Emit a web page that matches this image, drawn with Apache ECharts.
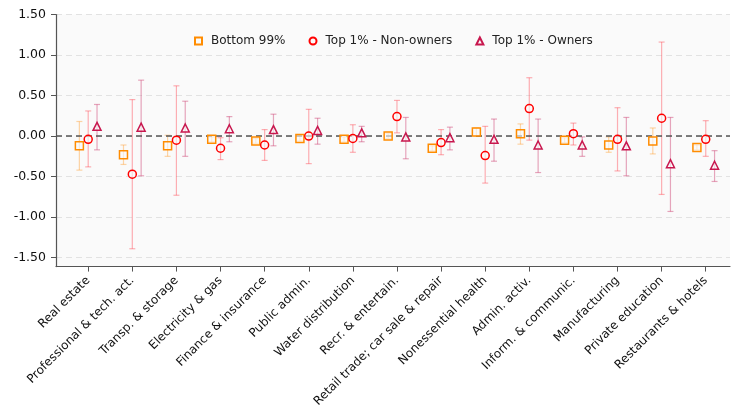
<!DOCTYPE html>
<html><head><meta charset="utf-8">
<script src="https://cdn.jsdelivr.net/npm/echarts@6/dist/echarts.min.js"></script>
<style>html,body{margin:0;padding:0;background:#fff}#c{width:731px;height:410px}</style>
</head><body><div id="c"></div>
<script>
const categories = ["Real estate","Professional & tech. act.","Transp. & storage","Electricity & gas","Finance & insurance","Public admin.","Water distribution","Recr. & entertain.","Retail trade; car sale & repair","Nonessential health","Admin. activ.","Inform. & communic.","Manufacturing","Private education","Restaurants & hotels"];
const yTicks = [-1.5, -1.0, -0.5, 0.0, 0.5, 1.0, 1.5];

const bottomVal  = [-0.12, -0.23, -0.12, -0.04, -0.06, -0.03, -0.04, 0.00, -0.15, 0.05, 0.03, -0.05, -0.11, -0.06, -0.14];
const bottomLow  = [-0.42, -0.35, -0.25, -0.07, -0.09, -0.06, -0.07, -0.03, -0.18, 0.00, -0.10, -0.08, -0.20, -0.22, -0.17];
const bottomHigh = [0.18, -0.11, 0.01, -0.01, -0.03, 0.00, -0.01, 0.03, -0.12, 0.10, 0.15, -0.02, -0.01, 0.10, -0.11];

const nonVal  = [-0.04, -0.47, -0.05, -0.15, -0.11, 0.00, -0.03, 0.24, -0.08, -0.24, 0.34, 0.03, -0.04, 0.22, -0.04];
const nonLow  = [-0.38, -1.39, -0.73, -0.29, -0.30, -0.34, -0.20, 0.04, -0.23, -0.58, -0.05, -0.11, -0.43, -0.72, -0.25];
const nonHigh = [0.31, 0.45, 0.62, -0.02, 0.08, 0.33, 0.14, 0.44, 0.08, 0.12, 0.72, 0.16, 0.35, 1.16, 0.19];

const ownVal  = [0.12, 0.11, 0.10, 0.09, 0.08, 0.07, 0.04, -0.01, -0.02, -0.04, -0.11, -0.11, -0.12, -0.34, -0.36];
const ownLow  = [-0.17, -0.49, -0.25, -0.07, -0.12, -0.10, -0.07, -0.28, -0.17, -0.31, -0.45, -0.25, -0.49, -0.93, -0.56];
const ownHigh = [0.39, 0.69, 0.43, 0.24, 0.27, 0.22, 0.12, 0.23, 0.11, 0.21, 0.21, -0.01, 0.23, 0.23, -0.18];

const seriesDefs = [
  {name: 'Bottom 99%', val: bottomVal, low: bottomLow, high: bottomHigh, offset: -0.2, symbol: 'rect', color: '#ff8c00', bar: 'rgba(255,165,60,0.45)', size: 8},
  {name: 'Top 1% - Non-owners', val: nonVal, low: nonLow, high: nonHigh, offset: 0, symbol: 'circle', color: '#ff0000', bar: 'rgba(255,80,90,0.45)', size: 8},
  {name: 'Top 1% - Owners', val: ownVal, low: ownLow, high: ownHigh, offset: 0.2, symbol: 'triangle', color: '#c8174e', bar: 'rgba(205,60,110,0.45)', size: 8}
];

const series = [];
seriesDefs.forEach(function (d) {
  series.push({
    type: 'custom', name: d.name + ' err', silent: true, z: 2,
    data: d.val.map(function (_, i) { return [i, d.low[i], d.high[i]]; }),
    renderItem: function (params, api) {
      const x = api.value(0) + d.offset;
      const lo = api.coord([x, api.value(1)]);
      const hi = api.coord([x, api.value(2)]);
      const cw = 3;
      const st = {stroke: d.bar, lineWidth: 1.2};
      return {type: 'group', children: [
        {type: 'line', shape: {x1: lo[0], y1: lo[1], x2: hi[0], y2: hi[1]}, style: st},
        {type: 'line', shape: {x1: lo[0] - cw, y1: lo[1], x2: lo[0] + cw, y2: lo[1]}, style: st},
        {type: 'line', shape: {x1: hi[0] - cw, y1: hi[1], x2: hi[0] + cw, y2: hi[1]}, style: st}
      ]};
    }
  });
});
seriesDefs.forEach(function (d, k) {
  const s = {
    type: 'scatter', name: d.name, z: 5,
    symbol: d.symbol, symbolSize: d.size,
    data: d.val.map(function (v, i) { return [i + d.offset, v]; }),
    itemStyle: {color: 'rgba(250,250,250,0.6)', borderColor: d.color, borderWidth: 1.5, opacity: 1}
  };
  if (k === 0) {
    s.markLine = {silent: true, symbol: 'none', label: {show: false},
      lineStyle: {color: '#555', type: [6, 4], width: 1.6},
      data: [{yAxis: 0}]};
  }
  series.push(s);
});

const chart = echarts.init(document.getElementById('c'), null, {renderer: 'canvas'});
chart.setOption({
  animation: false,
  backgroundColor: '#ffffff',
  textStyle: {fontFamily: 'DejaVu Sans'},
  grid: {left: 56, right: 1, top: 14.5, bottom: 142, show: true, backgroundColor: '#fafafa', borderWidth: 0},
  legend: {
    left: 189, top: 30, itemGap: 23, itemWidth: 7, itemHeight: 7,
    textStyle: {fontFamily: 'DejaVu Sans', fontSize: 12, color: '#222', padding: [0, 0, 0, 4]},
    data: seriesDefs.map(function (d) { return {name: d.name, icon: d.symbol}; })
  },
  xAxis: {
    type: 'value', min: -0.73, max: 14.55,
    axisLine: {show: true, onZero: false, lineStyle: {color: '#555', width: 1.2}},
    axisTick: {show: true, length: 5, lineStyle: {color: '#555'}, customValues: categories.map(function (_, i) { return i; })},
    axisLabel: {
      customValues: categories.map(function (_, i) { return i; }),
      rotate: 45, fontSize: 12, color: '#111', margin: 12, fontFamily: 'DejaVu Sans',
      formatter: function (v) { return categories[Math.round(v)]; }
    },
    splitLine: {show: false}
  },
  yAxis: {
    type: 'value', min: -1.61, max: 1.5,
    axisLine: {show: true, onZero: false, lineStyle: {color: '#555', width: 1.2}},
    axisTick: {show: true, length: 5, lineStyle: {color: '#555'}, customValues: yTicks},
    axisLabel: {customValues: yTicks, fontSize: 12.5, color: '#111', margin: 10, fontFamily: 'DejaVu Sans',
      formatter: function (v) { return v.toFixed(2); }},
    splitLine: {show: true, lineStyle: {color: '#e2e2e2', type: [6, 4], width: 1.2}}
  },
  series: series
});
</script></body></html>
